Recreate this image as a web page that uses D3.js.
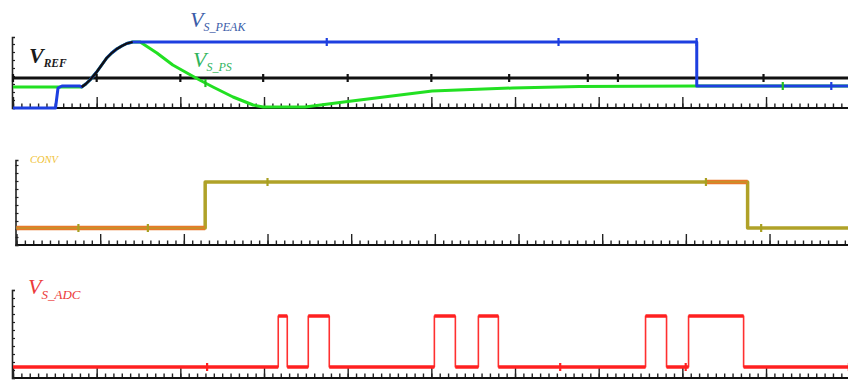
<!DOCTYPE html>
<html><head><meta charset="utf-8">
<script src="https://cdn.jsdelivr.net/npm/d3@7"></script>
<style>body{margin:0;background:#fff}svg{display:block}</style>
</head><body>
<svg id="c" width="848" height="383"></svg>
<script>
// ---------------- DATA ----------------
const majorTicks = d3.range(0, 10.001, 1);
const minorTicks = d3.range(0, 10.001, 0.1);

// Panel 1 : V_REF, V_S_PEAK, V_S_PS
const vrefTime = [0, 10];
const vrefValue = [3.0, 3.0];
const vrefRampTime = [0.82, 0.87, 0.92, 1.00, 1.06, 1.12, 1.18, 1.24, 1.30, 1.36, 1.43];
const vrefRampValue = [2.1, 2.4, 2.8, 3.6, 4.3, 5.0, 5.5, 5.9, 6.2, 6.45, 6.6];
const vrefMarkers = [0, 1.0, 2.0, 2.99, 4.0, 5.0, 5.93, 6.87, 7.23, 8.97];

const vsPeakTime = [0, 0.508, 0.538, 0.585, 0.80, 0.82, 0.87, 0.92, 1.00, 1.06, 1.12, 1.18, 1.24, 1.30, 1.36, 1.43, 8.172, 8.172, 10];
const vsPeakValue = [0, 0, 2.0, 2.2, 2.2, 2.1, 2.4, 2.8, 3.6, 4.3, 5.0, 5.5, 5.9, 6.2, 6.45, 6.6, 6.6, 2.2, 2.2];
const vsPeakMarkers = [3.75, 6.52, 8.17, 9.78];

const vsPsTime = [0, 0.80, 0.82, 0.87, 0.92, 1.00, 1.06, 1.12, 1.18, 1.24, 1.30, 1.36, 1.43, 1.52, 1.72, 1.91, 2.08, 2.23, 2.39, 2.63, 2.87, 2.99, 3.49, 4.00, 5.01, 5.97, 6.77, 8.17, 10];
const vsPsValue = [2.1, 2.1, 2.1, 2.4, 2.8, 3.6, 4.3, 5.0, 5.5, 5.9, 6.2, 6.45, 6.6, 6.6, 5.5, 4.3, 3.5, 2.8, 2.1, 1.1, 0.3, 0.1, 0.1, 0.65, 1.7, 2.0, 2.15, 2.2, 2.2];
const vsPsMarkers = [2.3, 9.2];

// Panel 2 : CONV
const convTime = [0, 2.255, 8.738, 10];
const convValue = [1.7, 6.3, 1.7, 1.7];
const convOrangeStart = [0, 8.236];
const convOrangeEnd = [2.255, 8.738];
const convMarkers = [0.74, 1.57, 3.0, 8.24, 8.9];

// Panel 3 : V_S_ADC
const adcEdges = [3.170, 3.278, 3.529, 3.780, 5.036, 5.287, 5.562, 5.801, 7.560, 7.811, 8.074, 8.732];
const adcLevels = [1.1, 6.2];
const adcMarkers = [2.32, 6.54, 8.04, 9.99];

// ---------------- DRAW ----------------
const svg = d3.select("#c");
const div = 83.67;

function panel(x0, yBottom, yTop, yMax) {
  const x = d3.scaleLinear().domain([0, 10]).range([x0, x0 + 10 * div]);
  const y = d3.scaleLinear().domain([0, yMax]).range([yBottom, yTop]);
  const g = svg.append("g");
  g.append("g").attr("transform", `translate(0,${yBottom})`)
    .call(d3.axisTop(x).tickValues(minorTicks).tickSize(4.5).tickFormat(""))
    .call(s => s.select(".domain").remove())
    .call(s => s.selectAll("line").attr("stroke", "#222").attr("stroke-width", 1.4));
  g.append("g").attr("transform", `translate(0,${yBottom})`)
    .call(d3.axisTop(x).tickValues(majorTicks).tickSize(11).tickFormat(""))
    .call(s => s.select(".domain").remove())
    .call(s => s.selectAll("line").attr("stroke", "#222").attr("stroke-width", 1.4));
  g.append("line").attr("x1", x0 - 1).attr("x2", 848).attr("y1", yBottom).attr("y2", yBottom)
    .attr("stroke", "#111").attr("stroke-width", 2.2);
  g.append("g").attr("transform", `translate(${x0 - 1},0)`)
    .call(d3.axisRight(y).tickValues(d3.range(0, yMax + 0.01, 0.8)).tickSize(3).tickFormat(""))
    .call(s => s.select(".domain").attr("stroke", "#222").attr("stroke-width", 1.6))
    .call(s => s.selectAll("line").attr("stroke", "#222").attr("stroke-width", 1.2));
  return {x, y, g};
}

function series(p, ts, vs, color, w, curve) {
  const line = d3.line().x(d => p.x(d[0])).y(d => p.y(d[1]));
  if (curve) line.curve(curve);
  p.g.append("path").datum(ts.map((t, i) => [t, vs[i]]))
    .attr("d", line).attr("fill", "none").attr("stroke", color)
    .attr("stroke-width", w).attr("stroke-linejoin", "round");
}
function interp(ts, vs, t) {
  for (let i = 1; i < ts.length; i++) {
    if (t <= ts[i]) {
      const a = ts[i - 1], b = ts[i];
      return b === a ? vs[i] : vs[i - 1] + (vs[i] - vs[i - 1]) * (t - a) / (b - a);
    }
  }
  return vs[vs.length - 1];
}
function markers(p, ts, vs, list, color, stepMode) {
  list.forEach(t => {
    const v = stepMode ? stepMode(t) : interp(ts, vs, t);
    p.g.append("line").attr("x1", p.x(t)).attr("x2", p.x(t))
      .attr("y1", p.y(v) - 4).attr("y2", p.y(v) + 4)
      .attr("stroke", color).attr("stroke-width", 2.2);
  });
}
function label(x, y, main, sub, color, size, subSize, dy, weight) {
  const t = svg.append("text").attr("x", x).attr("y", y)
    .attr("font-family", "Liberation Serif, DejaVu Serif, serif")
    .attr("font-style", "italic").attr("font-weight", weight || "normal").attr("fill", color);
  t.append("tspan").attr("font-size", size).text(main);
  if (sub) t.append("tspan").attr("font-size", subSize).attr("dy", dy).text(sub);
}

// Panel 1
const p1 = panel(13, 108, 37, 7.1);
series(p1, vrefTime, vrefValue, "#111", 3);
series(p1, vsPsTime, vsPsValue, "#22e022", 3);
series(p1, vsPeakTime, vsPeakValue, "#1d3fe0", 3);
series(p1, vrefRampTime, vrefRampValue, "#111", 2.2);
markers(p1, vrefTime, vrefValue, vrefMarkers, "#111");
markers(p1, vsPeakTime, vsPeakValue, vsPeakMarkers, "#1d3fe0");
markers(p1, vsPsTime, vsPsValue, vsPsMarkers, "#22c022");

label(29, 63, "V", "REF", "#1a1a1a", 22, 11.5, 4, "bold");
label(190, 27, "V", "S_PEAK", "#3a5ca8", 22, 12, 4);
label(193, 67, "V", "S_PS", "#2fb45c", 22, 12, 4);

// Panel 2
const p2 = panel(16.5, 245, 160, 8.5);
series(p2, convTime, convValue, "#b0a228", 3.5, d3.curveStepAfter);
convOrangeStart.forEach((s, i) => {
  const v = convValue[d3.bisectRight(convTime, s) - 1];
  p2.g.append("line").attr("x1", p2.x(s)).attr("x2", p2.x(convOrangeEnd[i]))
    .attr("y1", p2.y(v)).attr("y2", p2.y(v))
    .attr("stroke", "#e8782a").attr("stroke-width", 4.5);
});
series(p2, convTime, convValue, "#b0a228", 1, d3.curveStepAfter);
markers(p2, convTime, convValue, convMarkers, "#a8a020",
  t => convValue[d3.bisectRight(convTime, t) - 1]);
label(30, 163, "CONV", null, "#f0c235", 10.5);

// Panel 3
const p3 = panel(13, 378, 290, 8.8);
const adcPts = [[0, adcLevels[0]]];
adcEdges.forEach((e, i) => adcPts.push([e, adcLevels[(i + 1) % 2]]));
adcPts.push([10, adcLevels[adcEdges.length % 2]]);
series(p3, adcPts.map(d => d[0]), adcPts.map(d => d[1]), "#ff3030", 1.6, d3.curveStepAfter);
adcPts.slice(0, -1).forEach((d, i) => {
  p3.g.append("line").attr("x1", p3.x(d[0])).attr("x2", p3.x(adcPts[i + 1][0]))
    .attr("y1", p3.y(d[1])).attr("y2", p3.y(d[1]))
    .attr("stroke", "#ff2020").attr("stroke-width", 3.5);
});
const adcStep = t => adcLevels[d3.bisectRight(adcEdges, t) % 2];
markers(p3, null, null, adcMarkers, "#ff2020", adcStep);
label(28, 294, "V", "S_ADC", "#ec3a3a", 22, 13, 5);
</script>
</body></html>
